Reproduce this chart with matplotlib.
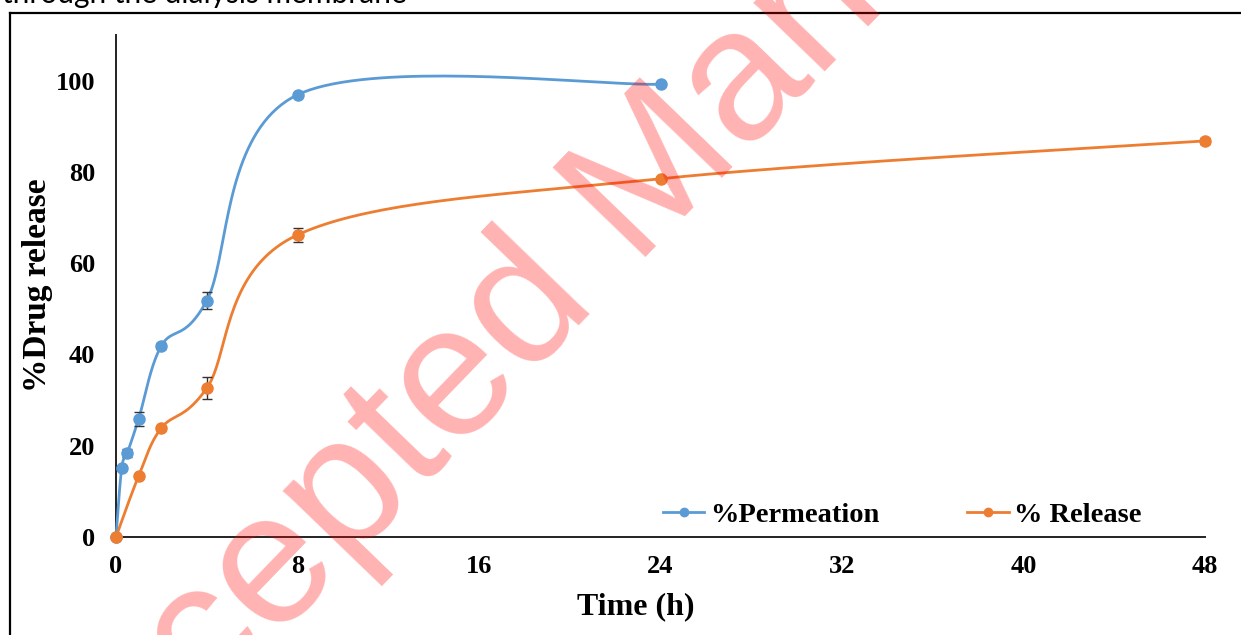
import numpy as np
import matplotlib.pyplot as plt
from matplotlib.lines import Line2D

# data
t_perm = [0, 0.25, 0.5, 1, 2, 4, 8, 24]
perm = [0, 15.1, 18.4, 25.9, 41.9, 51.8, 96.9, 99.2]
perm_err = [0, 0.4, 0.9, 1.5, 0.6, 1.8, 0.5, 0.4]

t_rel = [0, 1, 2, 4, 8, 24, 48]
rel = [0, 13.4, 23.9, 32.6, 66.2, 78.5, 86.8]
rel_err = [0, 0.4, 0.4, 2.4, 1.5, 0.4, 0.6]

xticks = [0, 8, 16, 24, 32, 40, 48]
yticks = [0, 20, 40, 60, 80, 100]

blue = '#5B9BD5'
orange = '#ED7D31'


def smooth(x, y, n=40):
    # excel-style smoothed line (catmull-rom as cubic bezier)
    p = np.column_stack([x, y]).astype(float)
    p = np.vstack([p[0], p, p[-1]])
    out = []
    for i in range(1, len(p) - 2):
        p0, p1, p2, p3 = p[i - 1], p[i], p[i + 1], p[i + 2]
        c1 = p1 + (p2 - p0) / 6
        c2 = p2 - (p3 - p1) / 6
        s = np.linspace(0, 1, n)[:, None]
        seg = (1 - s)**3 * p1 + 3 * (1 - s)**2 * s * c1 + 3 * (1 - s) * s**2 * c2 + s**3 * p2
        out.append(seg)
    out = np.vstack(out)
    return out[:, 0], out[:, 1]


plt.rcParams['font.family'] = 'Liberation Serif'
plt.rcParams['font.weight'] = 'bold'

W, H = 1241, 635
fig = plt.figure(figsize=(W / 100, H / 100), dpi=100)
ax = fig.add_axes([116 / W, 1 - 537 / H, (1205 - 116) / W, (537 - 35) / H])

sx, sy = smooth(t_perm, perm)
ax.plot(sx, sy, color=blue, lw=2.0, zorder=3, clip_on=False)
sx, sy = smooth(t_rel, rel)
ax.plot(sx, sy, color=orange, lw=2.0, zorder=3, clip_on=False)

ax.errorbar(t_perm, perm, yerr=perm_err, fmt='o', color=blue, ms=8,
            ecolor='#333333', elinewidth=1, capsize=3.5, zorder=4, clip_on=False)
ax.errorbar(t_rel, rel, yerr=rel_err, fmt='o', color=orange, ms=8,
            ecolor='#333333', elinewidth=1, capsize=3.5, zorder=4, clip_on=False)

ax.set_xlim(0, 48)
ax.set_ylim(0, 110)
ax.set_xticks(xticks)
ax.set_yticks(yticks)
ax.tick_params(axis='y', length=0, labelsize=19, pad=15)
ax.tick_params(axis='x', length=0, labelsize=19, pad=13)
for lab in ax.get_xticklabels() + ax.get_yticklabels():
    lab.set_fontweight('bold')
for s in ['top', 'right']:
    ax.spines[s].set_visible(False)
for s in ['left', 'bottom']:
    ax.spines[s].set_color('#222222')
    ax.spines[s].set_linewidth(1.4)

ax.set_xlabel('Time (h)', fontsize=23, fontweight='bold')
ax.set_ylabel('%Drug release', fontsize=24, fontweight='bold')
ax.xaxis.set_label_coords((636 - 116) / (1205 - 116), -(607 - 537) / (537 - 35))
ax.yaxis.set_label_coords(-(116 - 38) / (1205 - 116), (537 - 285) / (537 - 35))
ax.xaxis.label.set_va('center')
ax.yaxis.label.set_va('center')

handles = [Line2D([], [], color=blue, lw=2, marker='o', ms=6),
           Line2D([], [], color=orange, lw=2, marker='o', ms=6)]
fig.legend(handles, ['%Permeation', '% Release'], loc='center left',
           bbox_to_anchor=(663 / W, 1 - 515 / H), ncol=2, frameon=False,
           prop={'family': 'Liberation Serif', 'weight': 'bold', 'size': 20.5},
           handlelength=1.45, handletextpad=0.2, columnspacing=3.1,
           borderpad=0, borderaxespad=0)

# caption fragment and frame of the page
fig.text(2 / W, 1 - 3 / H, 'through the dialysis membrane', fontsize=21.5,
         family='Lato', fontweight='normal', va='baseline', ha='left')
fig.add_artist(Line2D([10 / W, 1], [1 - 13 / H, 1 - 13 / H], color='black', lw=1.6))
fig.add_artist(Line2D([10 / W, 10 / W], [0, 1 - 13 / H], color='black', lw=1.6))

# watermark
fig.text(629 / W, 1 - 204 / H, 'Accepted Manuscript', fontsize=135,
         family='Liberation Sans', fontweight='normal', color='red', alpha=0.3,
         rotation=46, rotation_mode='anchor', ha='center', va='center', zorder=10)

fig.savefig('out.png', dpi=100)
